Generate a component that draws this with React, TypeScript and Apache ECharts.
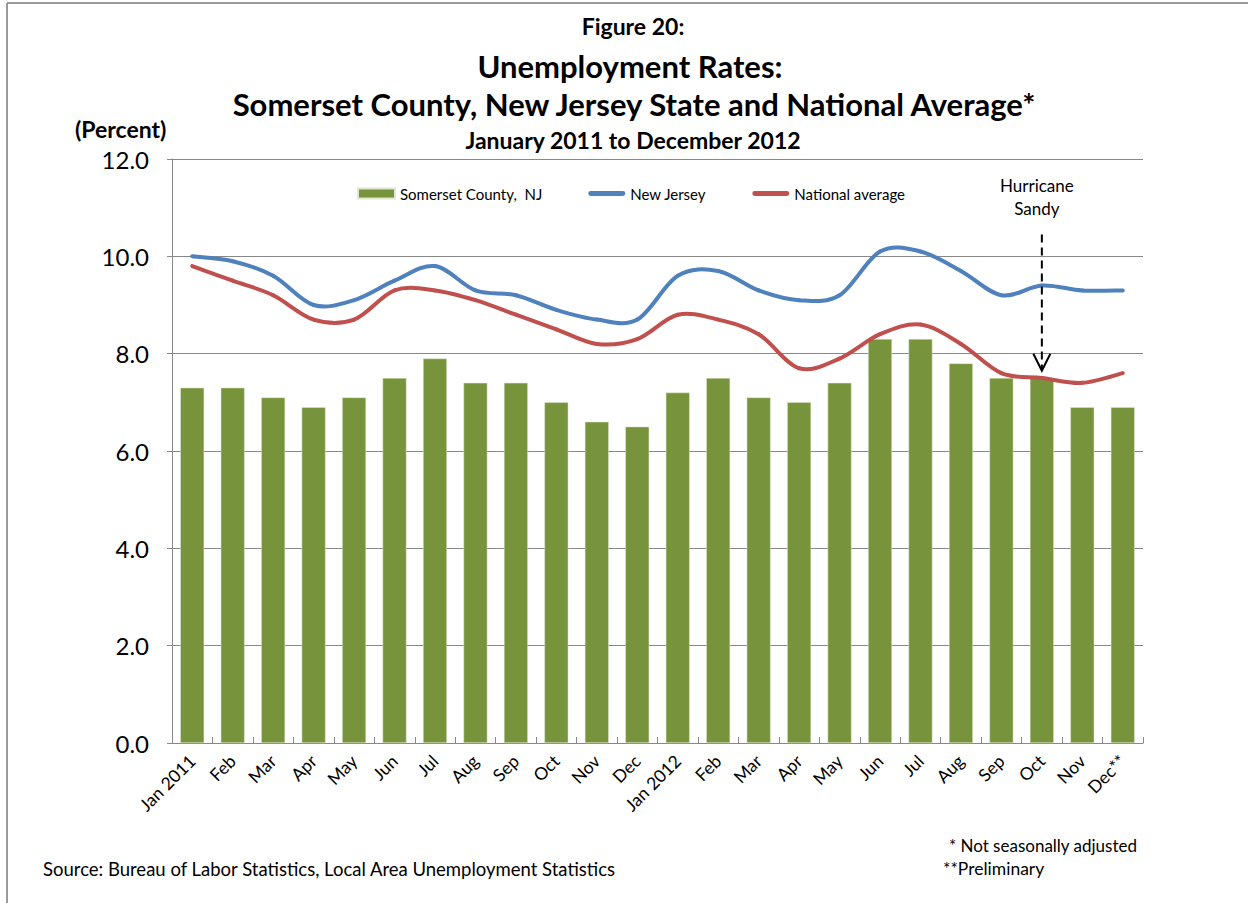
import React, { useEffect, useRef } from "react";
import * as echarts from "echarts";

const categories = [
  "Jan 2011", "Feb", "Mar", "Apr", "May", "Jun", "Jul", "Aug", "Sep", "Oct", "Nov", "Dec",
  "Jan 2012", "Feb", "Mar", "Apr", "May", "Jun", "Jul", "Aug", "Sep", "Oct", "Nov", "Dec**",
];
const somerset = [7.3, 7.3, 7.1, 6.9, 7.1, 7.5, 7.9, 7.4, 7.4, 7.0, 6.6, 6.5, 7.2, 7.5, 7.1, 7.0, 7.4, 8.3, 8.3, 7.8, 7.5, 7.5, 6.9, 6.9];
const newJersey = [10.0, 9.9, 9.6, 9.0, 9.1, 9.5, 9.8, 9.3, 9.2, 8.9, 8.7, 8.7, 9.6, 9.7, 9.3, 9.1, 9.2, 10.1, 10.1, 9.7, 9.2, 9.4, 9.3, 9.3];
const national = [9.8, 9.5, 9.2, 8.7, 8.7, 9.3, 9.3, 9.1, 8.8, 8.5, 8.2, 8.3, 8.8, 8.7, 8.4, 7.7, 7.9, 8.4, 8.6, 8.2, 7.6, 7.5, 7.4, 7.6];
const seriesNames = ["Somerset County,  NJ", "New Jersey", "National average"];
const yMin = 0;
const yMax = 12;
const yInterval = 2;
const annotationIndex = 21;
const annotationTop = 10.45;
const annotationTip = 7.65;
const annotationLines = ["Hurricane", "Sandy"];

const FONT = "Lato, 'Open Sans', sans-serif";
const LINE_ICON = "path://M2.5,0 H35.5 A2.5,2.5 0 0 1 35.5,5 H2.5 A2.5,2.5 0 0 1 2.5,0 Z";

function curveSeries(name: string, values: number[], color: string) {
  return {
    name,
    type: "custom",
    coordinateSystem: "cartesian2d",
    data: values.map((v, i) => [i, v]),
    encode: { x: 0, y: 1 },
    itemStyle: { color },
    z: 3,
    renderItem: (params: any, api: any) => {
      if (params.dataIndex !== 0) return null;
      const pts = values.map((v, i) => api.coord([i, v]));
      const n = pts.length;
      const children: any[] = [];
      for (let i = 0; i < n - 1; i++) {
        const p0 = pts[Math.max(i - 1, 0)];
        const p1 = pts[i];
        const p2 = pts[i + 1];
        const p3 = pts[Math.min(i + 2, n - 1)];
        children.push({
          type: "bezierCurve",
          shape: {
            x1: p1[0], y1: p1[1], x2: p2[0], y2: p2[1],
            cpx1: p1[0] + (p2[0] - p0[0]) / 6,
            cpy1: p1[1] + (p2[1] - p0[1]) / 6,
            cpx2: p2[0] - (p3[0] - p1[0]) / 6,
            cpy2: p2[1] - (p3[1] - p1[1]) / 6,
          },
          style: { stroke: color, lineWidth: 4, fill: "none", lineCap: "round", lineJoin: "round" },
        });
      }
      return { type: "group", children };
    },
  };
}

export default function App() {
  const ref = useRef<HTMLDivElement>(null);
  useEffect(() => {
    if (!ref.current) return;
    const chart = echarts.init(ref.current, null, { renderer: "svg" });
    const titleStyle = { fontFamily: FONT, fontWeight: "bold" as const, color: "#000" };
    chart.setOption({
      animation: false,
      backgroundColor: "#fff",
      textStyle: { fontFamily: FONT },
      title: [
        { text: "Figure 20:", left: 628, top: 9, textAlign: "center", textStyle: { ...titleStyle, fontSize: 23 } },
        { text: "Unemployment Rates:", left: 625, top: 45, textAlign: "center", textStyle: { ...titleStyle, fontSize: 31 } },
        { text: "Somerset County, New Jersey State and National Average*", left: 629, top: 83, textAlign: "center", textStyle: { ...titleStyle, fontSize: 31 } },
        { text: "January 2011 to December 2012", left: 628, top: 123, textAlign: "center", textStyle: { ...titleStyle, fontSize: 23 } },
        { text: "(Percent)", left: 70, top: 112, textStyle: { ...titleStyle, fontSize: 23 } },
      ],
      legend: {
        left: 357,
        top: 186,
        padding: 0,
        itemGap: 46,
        itemWidth: 37,
        itemHeight: 10,
        textStyle: { fontFamily: FONT, fontSize: 15, color: "#000" },
        data: [
          { name: seriesNames[0], icon: "rect" },
          { name: seriesNames[1], icon: LINE_ICON },
          { name: seriesNames[2], icon: LINE_ICON },
        ],
      },
      grid: { left: 172, right: 105, top: 159, bottom: 160, containLabel: false },
      xAxis: {
        type: "category",
        data: categories,
        boundaryGap: true,
        axisLine: { lineStyle: { color: "#888", width: 1 } },
        axisTick: { show: true, inside: true, length: 6, lineStyle: { color: "#888" } },
        axisLabel: { rotate: 45, fontSize: 17.5, color: "#000", fontFamily: FONT, interval: 0, margin: 15 },
      },
      yAxis: {
        type: "value",
        min: yMin,
        max: yMax,
        interval: yInterval,
        axisLine: { show: true, lineStyle: { color: "#888" } },
        axisTick: { show: true, length: 5, lineStyle: { color: "#888" } },
        splitLine: { lineStyle: { color: "#888", width: 1 } },
        axisLabel: { fontSize: 24, color: "#000", fontFamily: FONT, margin: 23, formatter: (v: number) => v.toFixed(1) },
      },
      series: [
        {
          name: seriesNames[0],
          type: "bar",
          data: somerset,
          barCategoryGap: "41%",
          itemStyle: { color: "#77933C", borderColor: "#dfe8cf", borderWidth: 0.5 },
          z: 1,
        },
        curveSeries(seriesNames[1], newJersey, "#4F81BD"),
        curveSeries(seriesNames[2], national, "#C0504D"),
      ],
    });

    const top = chart.convertToPixel({ xAxisIndex: 0, yAxisIndex: 0 }, [annotationIndex, annotationTop]) as number[];
    const tip = chart.convertToPixel({ xAxisIndex: 0, yAxisIndex: 0 }, [annotationIndex, annotationTip]) as number[];
    const ax = top[0];
    chart.setOption({
      graphic: [
        { type: "line", shape: { x1: 7, y1: 3, x2: 1248, y2: 3 }, style: { stroke: "#9a9a9a", lineWidth: 2 } },
        { type: "line", shape: { x1: 7, y1: 3, x2: 7, y2: 903 }, style: { stroke: "#9a9a9a", lineWidth: 2 } },
        {
          type: "line",
          shape: { x1: ax, y1: top[1], x2: ax, y2: tip[1] - 2 },
          style: { stroke: "#000", lineWidth: 2, lineDash: [8, 5] },
          z: 10,
        },
        {
          type: "polyline",
          shape: { points: [[ax - 8.5, tip[1] - 17], [ax, tip[1]], [ax + 8.5, tip[1] - 17]] },
          style: { stroke: "#000", lineWidth: 2, fill: "none" },
          z: 10,
        },
        {
          type: "text",
          x: ax - 5,
          y: top[1] - 60,
          style: {
            text: annotationLines.join("\n"),
            fontFamily: FONT,
            fontSize: 17,
            lineHeight: 23,
            fill: "#000",
            align: "center",
            verticalAlign: "top",
          },
          z: 10,
        },
        {
          type: "text",
          x: 1137,
          y: 837,
          style: { text: "* Not seasonally adjusted", fontFamily: FONT, fontSize: 17, fill: "#000", align: "right", verticalAlign: "top" },
        },
        {
          type: "text",
          x: 943,
          y: 859,
          style: { text: "**Preliminary", fontFamily: FONT, fontSize: 17.5, fill: "#000", align: "left", verticalAlign: "top" },
        },
        {
          type: "text",
          x: 43,
          y: 859,
          style: { text: "Source: Bureau of Labor Statistics, Local Area Unemployment Statistics", fontFamily: FONT, fontSize: 18.5, fill: "#000", align: "left", verticalAlign: "top" },
        },
      ],
    });
    return () => chart.dispose();
  }, []);
  return (
    <div
      ref={ref}
      style={{ position: "absolute", left: 0, top: 0, width: 1248, height: 903, background: "#fff" }}
    />
  );
}
